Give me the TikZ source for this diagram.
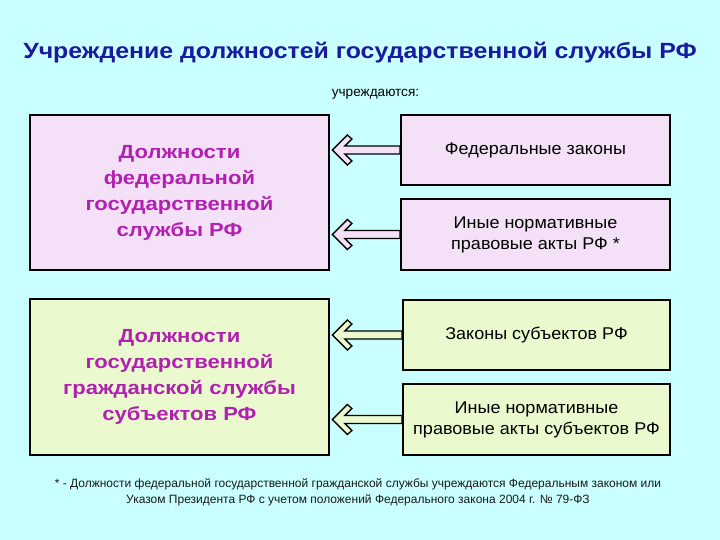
\documentclass[tikz,border=0pt]{standalone}
\usepackage{fontspec}
\setmainfont{Liberation Sans}
\newfontfamily\titlefont[FakeStretch=1.13]{Liberation Sans}
\newfontfamily\bigfont[FakeStretch=1.16]{Liberation Sans}
\newfontfamily\medfont[FakeStretch=1.06]{Liberation Sans}
\usetikzlibrary{calc}
\definecolor{bgc}{RGB}{202,255,255}
\definecolor{titlec}{RGB}{26,26,160}
\definecolor{lav}{RGB}{244,225,248}
\definecolor{lgreen}{RGB}{234,250,206}
\definecolor{magc}{RGB}{178,32,178}
\tikzset{
  box/.style={draw=black, line width=1.8pt, minimum width=#1, inner sep=0pt, align=center},
  bigtxt/.style={font=\bigfont\fontsize{19}{26}\selectfont\bfseries, text=magc},
  smalltxt/.style={font=\medfont\fontsize{17}{21}\selectfont, text=black},
  arr/.style={draw=black, line width=1.3pt, line join=miter},
}
\newcommand\hollowarrow[3]{%
  \draw[arr, fill=#3] ($(#1.east |- #2.west)+(2.5,0)$) coordinate (t)
    -- ($(t)+(15,-15)$) -- ($(t)+(19.5,-11)$) -- ($(t)+(12.5,-4)$)
    -- ($(#2.west)+(0,-4)$) -- ($(#2.west)+(0,4)$)
    -- ($(t)+(12.5,4)$) -- ($(t)+(19.5,11)$) -- ($(t)+(15,15)$) -- cycle;
}
\begin{document}
\begin{tikzpicture}[x=1pt,y=-1pt]
\fill[bgc] (0,0) rectangle (720,540);
\useasboundingbox (0,0) rectangle (720,540);

\node[font=\titlefont\fontsize{22}{26}\selectfont\bfseries, text=titlec] (title) at (360,53) {Учреждение должностей государственной службы РФ};
\node[font=\fontsize{13.6}{15}\selectfont] (sub) at (375.5,94) {учреждаются:};

\node[box=299pt, minimum height=155pt, fill=lav, bigtxt] (L1) at (179.5,192.5) {Должности\\федеральной\\государственной\\службы РФ};
\node[box=269pt, minimum height=70pt, fill=lav, smalltxt] (R1) at (535.5,150) {Федеральные законы};
\node[box=269pt, minimum height=71pt, fill=lav, smalltxt] (R2) at (535.5,234.5) {Иные нормативные\\правовые акты РФ *};

\node[box=299pt, minimum height=156pt, fill=lgreen, bigtxt] (L2) at (179.5,377) {Должности\\государственной\\гражданской службы\\субъектов РФ};
\node[box=267pt, minimum height=70pt, fill=lgreen, smalltxt] (R3) at (536.5,335) {Законы субъектов РФ};
\node[box=267pt, minimum height=71pt, fill=lgreen, smalltxt] (R4) at (536.5,419.5) {Иные нормативные\\правовые акты субъектов РФ};

\hollowarrow{L1}{R1}{lav}
\hollowarrow{L1}{R2}{lav}
\hollowarrow{L2}{R3}{lgreen}
\hollowarrow{L2}{R4}{lgreen}

\node[font=\fontsize{12}{16}\selectfont, align=center, text=black!90] (foot) at (358,492) {* - Должности федеральной государственной гражданской службы учреждаются Федеральным законом или\\Указом Президента РФ с учетом положений Федерального закона 2004 г. № 79-ФЗ};
\end{tikzpicture}
\end{document}
